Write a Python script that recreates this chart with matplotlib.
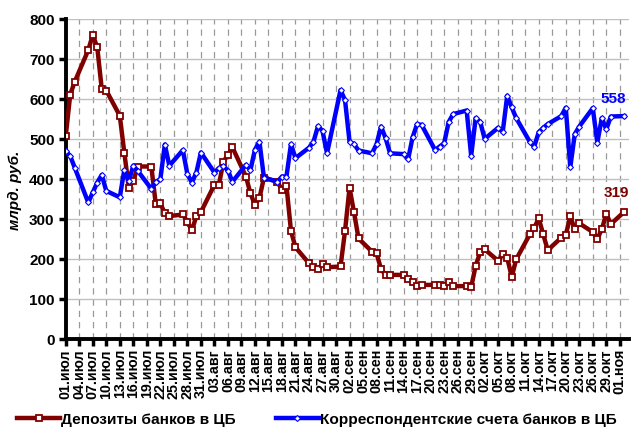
import matplotlib
matplotlib.use("Agg")
import matplotlib.pyplot as plt
import matplotlib.dates as mdates
import pandas as pd
from matplotlib.font_manager import FontProperties

plt.rcParams['font.family'] = ['Liberation Sans', 'DejaVu Sans']

# business days, 01.07.2009 - 02.11.2009
dates = pd.bdate_range('2009-07-01', '2009-11-02')

deposits = [
    508, 612, 644, 723, 761, 730, 625, 622, 559, 467, 379, 396, 432, 432, 337, 340, 315, 308, 312, 294, 272, 308, 318,
    386, 386, 444, 461, 480, 407, 365, 336, 353, 404, 394, 373, 384, 271, 230, 190, 180, 175, 188, 180, 182,
    271, 379, 317, 252, 219, 215, 175, 161, 161, 161, 150, 142, 132, 136, 136, 136, 133, 142, 133, 133, 130, 184,
    217, 225, 196, 212, 204, 156, 200, 262, 279, 302, 262, 223, 254, 261, 307, 275, 290, 268, 251, 275, 314, 288,
    319,
]
corr_accounts = [
    471, 458, 429, 342, 367, 392, 411, 371, 355, 423, 396, 434, 421, 376, 394, 400, 487, 434, 473, 413, 392, 417, 467,
    417, 428, 433, 422, 394, 436, 423, 474, 494, 404, 394, 407, 407, 488, 453, 479, 494, 533, 521, 465, 623,
    598, 494, 488, 472, 465, 488, 532, 503, 465, 463, 450, 505, 538, 536, 473, 482, 490, 543, 563, 572, 459, 553,
    544, 501, 529, 518, 609, 580, 553, 494, 482, 518, 529, 538, 558, 579, 430, 513, 532, 578, 492, 553, 525, 557,
    558,
]
series_names = ['Депозиты банков в ЦБ', 'Корреспондентские счета банков в ЦБ']
ru_months = {7: 'июл', 8: 'авг', 9: 'сен', 10: 'окт', 11: 'ноя'}
tick_dates = pd.date_range('2009-07-01', '2009-11-01', freq='3D')
tick_labels = [f"{d.day:02d}.{ru_months[d.month]}" for d in tick_dates]
y_label = 'млрд. руб.'

RED = '#800000'
BLUE = '#0000FF'

fig = plt.figure(figsize=(6.32, 4.37), dpi=100)
ax = fig.add_axes([0.104, 0.2236, 0.891, 0.7322])

l1, = ax.plot(dates, deposits, color=RED, lw=3.2, marker='s', ms=4.5,
              mfc='white', mec=RED, mew=1.3, solid_joinstyle='round', zorder=3)
l2, = ax.plot(dates, corr_accounts, color=BLUE, lw=3.2, marker='D', ms=3,
              mfc='white', mec=BLUE, mew=0.8, solid_joinstyle='round', zorder=3)

ax.set_xlim(mdates.date2num(pd.Timestamp('2009-07-01')),
            mdates.date2num(pd.Timestamp('2009-11-03')))
ax.set_ylim(0, 800)
ax.set_yticks(range(0, 801, 100))
ax.set_xticks(mdates.date2num(tick_dates))
ax.set_xticklabels(tick_labels, rotation=90, fontsize=10.3, fontweight='bold')
for t in ax.get_yticklabels():
    t.set_fontweight('bold')
    t.set_fontsize(11)

ax.tick_params(axis='x', direction='out', length=5, width=2.5, pad=2)
ax.tick_params(axis='y', direction='out', length=5, width=2.5, pad=3)

for s in ['top', 'right']:
    ax.spines[s].set_visible(False)
for s in ['left', 'bottom']:
    ax.spines[s].set_linewidth(2.8)

ax.set_axisbelow(True)
ax.yaxis.grid(True, color='#c0c0c0', lw=1.0, ls='-')
ax.xaxis.grid(True, color='#999999', lw=0.9, ls=(0, (5, 4)))

# end-value labels
ax.annotate(str(corr_accounts[-1]), (mdates.date2num(dates[-1]), corr_accounts[-1]),
            xytext=(-11, 17), textcoords='offset pixels', ha='center', va='center',
            color=BLUE, fontweight='bold', fontsize=11, annotation_clip=False)
ax.annotate(str(deposits[-1]), (mdates.date2num(dates[-1]), deposits[-1]),
            xytext=(5, 19), textcoords='offset pixels', ha='right', va='center',
            color=RED, fontweight='bold', fontsize=11, annotation_clip=False)

fig.text(0.024, 0.565, y_label, rotation=90, fontstyle='italic', fontweight='bold',
         fontsize=11, ha='center', va='center')

leg = fig.legend([l1, l2], series_names, loc='lower left', bbox_to_anchor=(0.005, -0.008),
                 ncol=2, frameon=False, handlelength=2.8, handletextpad=0.05,
                 columnspacing=2.6, prop=FontProperties(family='Liberation Sans', weight='bold', size=11.1))

fig.savefig('out.png', dpi=100)
